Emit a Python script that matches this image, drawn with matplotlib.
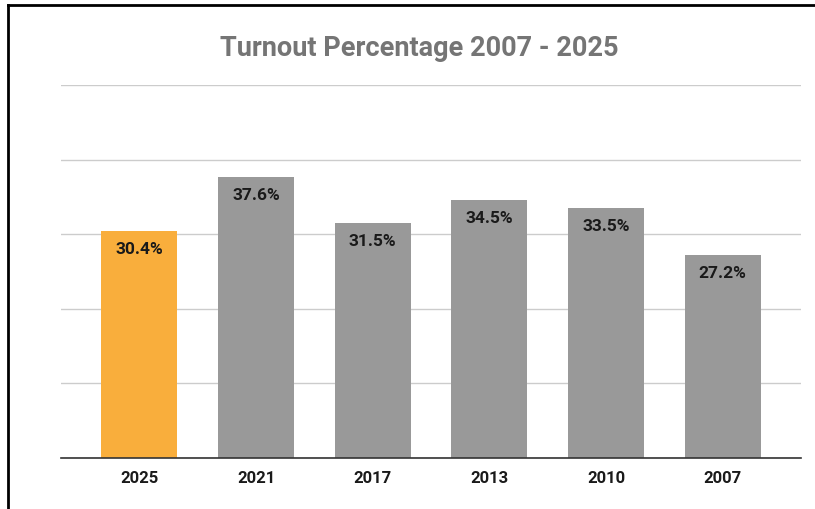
import matplotlib
matplotlib.use("Agg")
import matplotlib.pyplot as plt
from matplotlib.lines import Line2D

years = ["2025", "2021", "2017", "2013", "2010", "2007"]
turnout = [30.4, 37.6, 31.5, 34.5, 33.5, 27.2]
colors = ["#F9AE3C", "#999999", "#999999", "#999999", "#999999", "#999999"]

plt.rcParams['font.family'] = ['Roboto', 'DejaVu Sans']

fig = plt.figure(figsize=(8.15, 5.1), dpi=100)
ax = fig.add_axes([61/815, 1-458.5/510, 740/815, 372.5/510])

x = list(range(len(years)))
bars = ax.bar(x, turnout, width=0.65, color=colors, zorder=3)
for xi, v in zip(x, turnout):
    ax.annotate(f"{v}%", (xi, v), xytext=(0, -12.5), textcoords="offset points",
                ha="center", va="center", fontsize=12.5, fontweight="bold", color="#1a1a1a", zorder=4)

ax.set_ylim(0, 50)
ax.set_yticks([0, 10, 20, 30, 40, 50])
ax.set_xlim(-0.5 - 20/116.6, 5.5 + 20/116.6)
ax.set_xticks(x)
ax.set_xticklabels(years, fontsize=12, fontweight="bold", color="#1a1a1a")
ax.tick_params(axis="x", length=0, pad=9)
ax.tick_params(axis="y", length=0, labelleft=False)
ax.grid(axis="y", color="#cccccc", linewidth=1, zorder=0)
for s in ["top", "right", "left"]:
    ax.spines[s].set_visible(False)
ax.spines["bottom"].set_color("#333333")
ax.spines["bottom"].set_linewidth(1.2)
ax.spines["bottom"].set_zorder(5)

fig.text(419/815, 1-49/510, "Turnout Percentage 2007 - 2025", ha="center", va="center",
         fontsize=19.5, fontweight="bold", color="#757575")

fig.add_artist(Line2D([8/815, 8/815], [0, 1-6/510], color="black", linewidth=2, transform=fig.transFigure))
fig.add_artist(Line2D([8/815, 1], [1-6/510, 1-6/510], color="black", linewidth=2, transform=fig.transFigure))

fig.savefig("out.png", dpi=100)
